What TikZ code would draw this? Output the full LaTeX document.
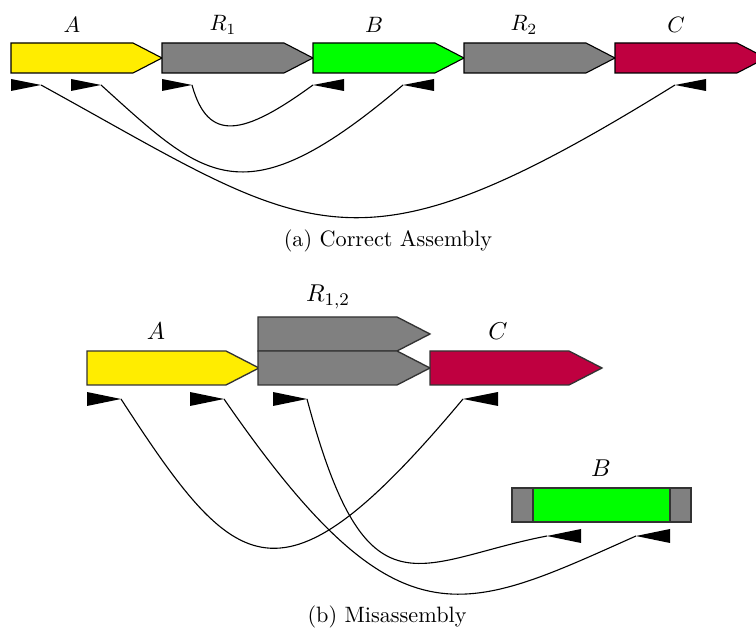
\documentclass[tikz,border=0pt]{standalone}
\usepackage{fontspec}
\definecolor{geneyellow}{RGB}{255,237,0}
\definecolor{genegreen}{RGB}{0,255,0}
\definecolor{genered}{RGB}{191,0,64}
\definecolor{genegray}{RGB}{128,128,128}

% gene arrow: left x, top y, width, height, head length, fill colour, style
\newcommand{\genearrow}[7]{%
  \filldraw[#7, fill=#6] ({#1},{#2}) -- ({#1+#3-#5},{#2}) -- ({#1+#3},{#2+#4/2})
    -- ({#1+#3-#5},{#2+#4}) -- ({#1},{#2+#4}) -- cycle;}
% forward primer: name, left x, top y, width, height (tip on the right)
\newcommand{\fwdprimer}[5]{%
  \fill[primer] ({#2},{#3}) -- ({#2+#4},{#3+#5/2}) -- ({#2},{#3+#5}) -- cycle;
  \coordinate (#1) at ({#2+#4},{#3+#5/2});}
% reverse primer: name, left x, top y, width, height (tip on the left)
\newcommand{\revprimer}[5]{%
  \fill[primer] ({#2+#4},{#3}) -- ({#2},{#3+#5/2}) -- ({#2+#4},{#3+#5}) -- cycle;
  \coordinate (#1) at ({#2},{#3+#5/2});}

\tikzset{
  geneA/.style={draw=black, line width=0.5pt, line join=miter},
  geneB/.style={draw=black!80, line width=0.6pt, line join=miter},
  primer/.style={fill=black},
  link/.style={draw=black, line width=0.5pt},
  lblA/.style={inner sep=0pt, font=\fontsize{10}{12}\selectfont},
  lblB/.style={inner sep=0pt, font=\fontsize{10.95}{13}\selectfont},
  caption/.style={inner sep=0pt, font=\fontsize{10}{12}\selectfont},
}

\begin{document}
\begin{tikzpicture}[x=0.45pt, y=-0.45pt]
\useasboundingbox (0,0) rectangle (756,628);

% ---------- (a) correct assembly ----------
\genearrow{11}{43}{151}{30}{29}{geneyellow}{geneA}
\genearrow{162}{43}{151}{30}{29}{genegray}{geneA}
\genearrow{313}{43}{151}{30}{29}{genegreen}{geneA}
\genearrow{464}{43}{151}{30}{29}{genegray}{geneA}
\genearrow{615}{43}{151}{30}{29}{genered}{geneA}

\node[lblA] (la)  at (72,25)  {$A$};
\node[lblA] (lr1) at (223,25) {$R_1$};
\node[lblA] (lb)  at (374,25) {$B$};
\node[lblA] (lr2) at (524,25) {$R_2$};
\node[lblA] (lc)  at (676,25) {$C$};

\fwdprimer{fa}{11}{79}{30}{12}
\fwdprimer{fb}{71}{79}{30}{12}
\fwdprimer{fr}{162}{79}{30}{12}
\revprimer{rb1}{313}{79}{31}{12}
\revprimer{rb2}{403}{79}{31}{12}
\revprimer{rc}{675}{79}{31}{12}

\draw[link] (fr) .. controls +(16,58) and +(-70,51) .. (rb1);
\draw[link] (fb) .. controls +(104,94) and +(-160,136) .. (rb2);
\draw[link] (fa) .. controls +(273,150) and +(-326,202) .. (rc);

\node[caption] (capa) at (388,241) {(a) Correct Assembly};

% ---------- (b) misassembly ----------
\genearrow{87}{351}{172}{34}{33}{geneyellow}{geneB}
\genearrow{258}{317}{172}{34}{33}{genegray}{geneB}
\genearrow{258}{351}{172}{34}{33}{genegray}{geneB}
\genearrow{430}{351}{172}{34}{33}{genered}{geneB}

\node[lblB] (la2)  at (156,331) {$A$};
\node[lblB] (lr12) at (328,297) {$R_{1,2}$};
\node[lblB] (lc2)  at (498,331) {$C$};
\node[lblB] (lb2)  at (601,468) {$B$};

% detached B with repeat ends
\filldraw[geneB, fill=genegray] (512,488) rectangle (691,522);
\filldraw[geneB, fill=genegreen] (533,488) rectangle (670,522);

\fwdprimer{ga}{87}{392}{34}{14}
\fwdprimer{gb}{190}{392}{34}{14}
\fwdprimer{gr}{273}{392}{34}{14}
\revprimer{sc}{463}{392}{35}{14}
\revprimer{sb1}{547}{529}{34}{14}
\revprimer{sb2}{636}{529}{34}{14}

\draw[link] (ga) .. controls +(115,177) and +(-184,220) .. (sc);
\draw[link] (gb) .. controls +(174,252) and +(-175,78) .. (sb2);
\draw[link] (gr) .. controls +(60,225) and +(-130,25) .. (sb1);

\node[caption] (capb) at (387,617) {(b) Misassembly};
\end{tikzpicture}
\end{document}
